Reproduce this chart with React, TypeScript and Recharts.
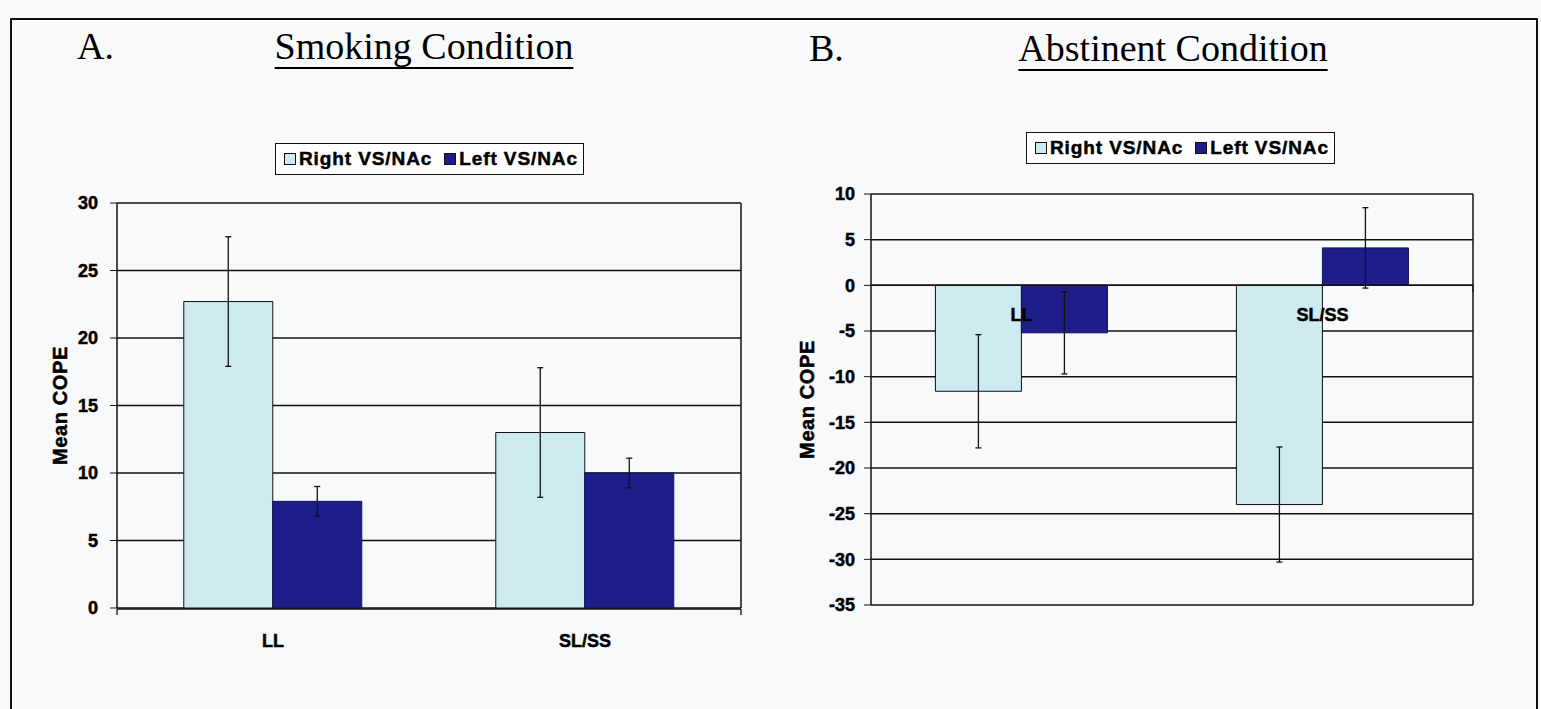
import React from "react";
import {
  BarChart, Bar, XAxis, YAxis, CartesianGrid, ErrorBar, Legend,
  ReferenceLine, ReferenceDot, Label,
} from "recharts";

// categories + values
const categories = ["LL", "SL/SS"];

const smokingRight = [22.7, 13.0];
const smokingLeft = [7.9, 10.0];
const smokingRightErr = [4.8, 4.8];
const smokingLeftErr = [1.1, 1.1];

const abstinentRight = [-11.6, -24.0];
const abstinentLeft = [-5.2, 4.1];
const abstinentRightErr = [6.2, 6.3];
const abstinentLeftErr = [4.5, 4.4];

const smokingTicks = [0, 5, 10, 15, 20, 25, 30];
const abstinentTicks = [-35, -30, -25, -20, -15, -10, -5, 0, 5, 10];
const edgeTicks = [0, 1, 2];

const seriesNames = ["Right VS/NAc", "Left VS/NAc"];

const smokingData = categories.map((name, i) => ({
  name,
  right: smokingRight[i],
  left: smokingLeft[i],
  rightErr: smokingRightErr[i],
  leftErr: smokingLeftErr[i],
}));

const abstinentData = categories.map((name, i) => ({
  name,
  right: abstinentRight[i],
  left: abstinentLeft[i],
  rightErr: abstinentRightErr[i],
  leftErr: abstinentLeftErr[i],
}));

const LIGHT = "#cdeaf0";
const DARK = "#1e1e8a";
const INK = "#111";
const BG = "#f8f9fb";
const SANS = "'Liberation Sans', Arial, sans-serif";
const SERIF = "'Liberation Serif', 'Times New Roman', serif";

// the scan uses a very heavy sans, a thin outline fattens Liberation Sans Bold a bit
const tickStyle = {
  fill: "#000", fontSize: 18, fontWeight: 700, fontFamily: SANS,
  stroke: "#000", strokeWidth: 0.5,
};

function LegendBox({ payload }: any) {
  // keep the series order of the original (recharts sorts by name)
  const items = [...(payload || [])].sort(
    (a: any, b: any) => seriesNames.indexOf(a.value) - seriesNames.indexOf(b.value)
  );
  return (
    <div
      style={{
        display: "inline-flex",
        alignItems: "center",
        border: `1.5px solid ${INK}`,
        background: "#fff",
        padding: "4px 5px 4px 8px",
        fontFamily: SANS,
        fontWeight: 700,
        fontSize: 19,
        letterSpacing: 0.9,
        lineHeight: "22px",
        color: "#000",
        WebkitTextStroke: "0.5px #000",
        whiteSpace: "nowrap",
      }}
    >
      {items.map((p: any, i: number) => (
        <span key={p.value} style={{ display: "inline-flex", alignItems: "center", marginLeft: i ? 12 : 0 }}>
          <span
            style={{
              display: "inline-block",
              width: 10,
              height: 10,
              background: p.color,
              border: `1px solid ${INK}`,
              marginRight: 3,
            }}
          />
          {p.value}
        </span>
      ))}
    </div>
  );
}

// rotated "Mean COPE" title, gap = distance from axis line to text baseline
const yTitle = (gap: number) => (props: any) => {
  const vb = props.viewBox || {};
  const x = vb.x + vb.width - gap;
  const y = vb.y + vb.height / 2;
  return (
    <text
      x={x}
      y={y}
      transform={`rotate(-90, ${x}, ${y})`}
      textAnchor="middle"
      fontFamily={SANS}
      fontWeight={700}
      fontSize={20}
      letterSpacing={0.6}
      fill="#000"
      stroke="#000"
      strokeWidth={0.5}
    >
      Mean COPE
    </text>
  );
};

function Title({ letter, letterX, text, center, baseline }: any) {
  const top = baseline - 32;
  return (
    <>
      <div style={{ position: "absolute", left: letterX, top, fontFamily: SERIF, fontSize: 38, lineHeight: "38px" }}>
        {letter}
      </div>
      <div
        style={{
          position: "absolute",
          left: center - 250,
          width: 500,
          top,
          textAlign: "center",
          fontFamily: SERIF,
          fontSize: 38,
          lineHeight: "38px",
          textDecoration: "underline",
          textDecorationThickness: 2,
          textUnderlineOffset: 8,
        }}
      >
        {text}
      </div>
    </>
  );
}

const noLabel = () => <g />;

function SmokingChart() {
  return (
    <BarChart
      width={770}
      height={700}
      data={smokingData}
      margin={{ top: 203, right: 28, left: 47, bottom: 90 }}
      barCategoryGap="21.4%"
      barGap={0}
    >
      <CartesianGrid horizontal vertical={false} stroke={INK} strokeWidth={1.5} />
      <XAxis xAxisId="edge" type="number" domain={[0, 2]} ticks={edgeTicks} tick={noLabel}
        tickSize={6} height={1} axisLine={{ stroke: INK, strokeWidth: 1.5 }} tickLine={{ stroke: INK, strokeWidth: 1.3 }} />
      <XAxis xAxisId="cat" dataKey="name" height={1} axisLine={false} tickLine={false}
        tickSize={0} tickMargin={26} tick={tickStyle} interval={0} />
      <YAxis domain={[0, 30]} ticks={smokingTicks} width={70} tickSize={7} tickMargin={12}
        axisLine={{ stroke: INK, strokeWidth: 1.5 }} tickLine={{ stroke: INK }} tick={tickStyle}>
        <Label content={yTitle(50)} />
      </YAxis>
      <YAxis yAxisId="border" orientation="right" domain={[0, 1]} width={1} tick={false}
        tickLine={false} axisLine={{ stroke: INK, strokeWidth: 1.5 }} />
      <Legend verticalAlign="middle" content={<LegendBox />}
        wrapperStyle={{ left: 275, top: 143, width: "auto", height: "auto" }} />
      <Bar xAxisId="cat" dataKey="right" name={seriesNames[0]} fill={LIGHT} stroke={INK} strokeWidth={1} isAnimationActive={false}>
        <ErrorBar dataKey="rightErr" width={3} stroke={INK} strokeWidth={1.3} direction="y" />
      </Bar>
      <Bar xAxisId="cat" dataKey="left" name={seriesNames[1]} fill={DARK} stroke="#10105a" strokeWidth={1} isAnimationActive={false}>
        <ErrorBar dataKey="leftErr" width={3} stroke={INK} strokeWidth={1.3} direction="y" />
      </Bar>
    </BarChart>
  );
}

function AbstinentChart() {
  return (
    <BarChart
      width={761}
      height={700}
      data={abstinentData}
      margin={{ top: 194, right: 67, left: 21, bottom: 95 }}
      barCategoryGap="21.4%"
      barGap={0}
    >
      <CartesianGrid horizontal vertical={false} stroke={INK} strokeWidth={1.5} />
      <XAxis xAxisId="edge" type="number" domain={[0, 2]} hide />
      <XAxis xAxisId="cat" dataKey="name" hide />
      <YAxis domain={[-35, 10]} ticks={abstinentTicks} width={70} tickSize={7} tickMargin={9}
        axisLine={{ stroke: INK, strokeWidth: 1.5 }} tickLine={{ stroke: INK }} tick={tickStyle}>
        <Label content={yTitle(57)} />
      </YAxis>
      <YAxis yAxisId="border" orientation="right" domain={[0, 1]} width={1} tick={false}
        tickLine={false} axisLine={{ stroke: INK, strokeWidth: 1.5 }} />
      <Legend verticalAlign="middle" content={<LegendBox />}
        wrapperStyle={{ left: 246, top: 132, width: "auto", height: "auto" }} />
      <Bar xAxisId="cat" dataKey="right" name={seriesNames[0]} fill={LIGHT} stroke={INK} strokeWidth={1} isAnimationActive={false}>
        <ErrorBar dataKey="rightErr" width={3} stroke={INK} strokeWidth={1.3} direction="y" />
      </Bar>
      <Bar xAxisId="cat" dataKey="left" name={seriesNames[1]} fill={DARK} stroke="#10105a" strokeWidth={1} isAnimationActive={false}>
        <ErrorBar dataKey="leftErr" width={3} stroke={INK} strokeWidth={1.3} direction="y" />
      </Bar>
      <ReferenceLine y={0} stroke={INK} strokeWidth={1.5} xAxisId="cat" />
      <ReferenceLine xAxisId="edge" segment={[{ x: 1, y: 0 }, { x: 1, y: -0.7 }]} stroke={INK} strokeWidth={1.2} />
      {categories.map((c) => (
        <ReferenceDot key={c} xAxisId="cat" x={c} y={0} r={0} fill="none" stroke="none"
          label={{ value: c, position: "bottom", offset: 23, ...tickStyle }} />
      ))}
    </BarChart>
  );
}

export default function App() {
  return (
    <div style={{ position: "fixed", left: 0, top: 0, width: 1541, height: 709, background: BG, overflow: "hidden" }}>
      <div style={{ position: "absolute", left: 10, top: 18, width: 1524, height: 720, border: `2px solid ${INK}` }} />
      <Title letter="A." letterX={77} text="Smoking Condition" center={424} baseline={59} />
      <Title letter="B." letterX={809} text="Abstinent Condition" center={1173} baseline={61} />
      <div style={{ position: "absolute", left: 0, top: 0 }}>
        <SmokingChart />
      </div>
      <div style={{ position: "absolute", left: 780, top: 0 }}>
        <AbstinentChart />
      </div>
    </div>
  );
}
